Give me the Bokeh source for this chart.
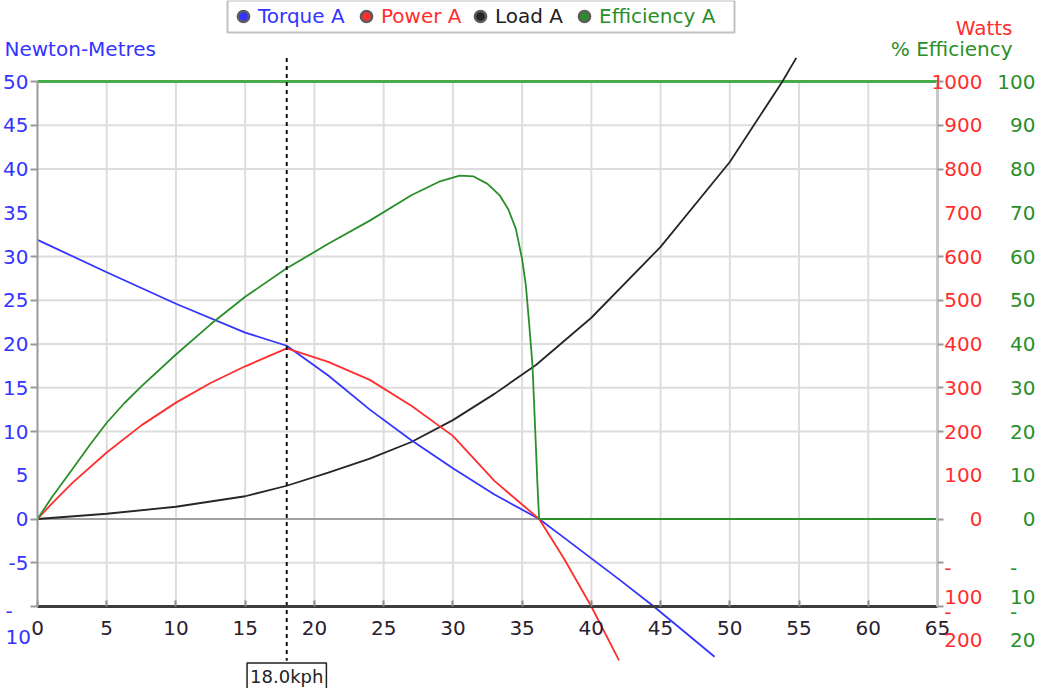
from bokeh.plotting import figure
from bokeh.models import (Range1d, LinearAxis, FixedTicker, Label, LabelSet,
                          ColumnDataSource, Legend, LegendItem, BoxAnnotation)
from bokeh.embed import file_html
from bokeh.resources import INLINE
from bokeh.core.properties import value

# ---------------- data ----------------
speed_torque = [0, 5, 10, 15, 18, 21, 24, 27, 30, 33, 36.23, 38, 40, 42, 44.4, 46.5, 48.9]
torque_nm = [31.9, 28.2, 24.6, 21.3, 19.8, 16.4, 12.5, 9.0, 5.8, 2.8, 0.0, -2.1, -4.5, -6.9, -9.85, -12.6, -15.75]

speed_power = [0, 1, 2.5, 5, 7.5, 10, 12.5, 15, 18, 21, 24, 27, 30, 33, 36.23, 38, 40, 42]
power_w = [0, 34, 82, 152, 214, 266, 311, 349, 390, 359, 318, 259, 190, 87, 0, -89, -200, -323]

speed_load = [0, 5, 10, 15, 18, 21, 24, 27, 30, 33, 36, 40, 45, 50, 53.8, 54.8]
load_nm = [0, 0.6, 1.4, 2.6, 3.8, 5.3, 6.9, 8.8, 11.3, 14.3, 17.6, 23.0, 31.1, 40.8, 50.0, 52.7]

speed_eff = [0, 1, 2.5, 3.75, 5, 6.25, 7.5, 10, 12.5, 15, 18, 21, 24, 27, 29, 30.5, 31.5, 32.5, 33.4,
             34, 34.55, 35, 35.27, 35.5, 35.75, 35.95, 36.11, 36.23, 65]
efficiency_pct = [0, 4.8, 11.3, 16.8, 22, 26.4, 30.3, 37.6, 44.5, 50.8, 57.3, 62.9, 68.2, 74.0, 77.1, 78.5,
                  78.3, 76.6, 73.9, 70.8, 66.3, 59.4, 53.4, 45.0, 35.1, 20.0, 7.7, 0, 0]
efficiency_top = 100

marker_speed = 18.0
marker_text = "18.0kph"

x_ticks = [0, 5, 10, 15, 20, 25, 30, 35, 40, 45, 50, 55, 60, 65]
nm_ticks = [-10, -5, 0, 5, 10, 15, 20, 25, 30, 35, 40, 45, 50]
nm_grid = [-10, -5, 0, 10, 15, 20, 25, 30, 40, 45, 50]
watt_ticks = [1000, 900, 800, 700, 600, 500, 400, 300, 200, 100, 0]
watt_neg = [-100, -200]
eff_ticks = [100, 90, 80, 70, 60, 50, 40, 30, 20, 10, 0]
eff_neg = [-10, -20]

series_names = ["Torque A", "Power A", "Load A", "Efficiency A"]

BLUE = "#3434ff"
RED = "#ff2e2e"
BLACK = "#262626"
GREEN = "#2a8f2a"
TOPGREEN = "#48ad48"
FONT = "DejaVu Sans"
FS = "20px"

# ---------------- layout constants (pixels) ----------------
W, H = 1039, 688
PX_PER_KPH = 900 / 65.0
PX_PER_NM = 8.75
X0_PX = 37.0        # canvas x of 0 kph
Y0_PX = 518.5       # canvas y of 0 Nm
W_PER_NM = 20
PCT_PER_NM = 2
LINE_TOP_NM, LINE_BOTTOM_NM = 52.7, -16.2

x_lo = -X0_PX / PX_PER_KPH
x_hi = (W - X0_PX) / PX_PER_KPH
y_hi = Y0_PX / PX_PER_NM
y_lo = (Y0_PX - H) / PX_PER_NM

p = figure(frame_width=W, frame_height=H,
           x_range=Range1d(x_lo, x_hi), y_range=Range1d(y_lo, y_hi),
           x_axis_type=None, y_axis_type=None,
           output_backend="svg", toolbar_location=None,
           min_border=0)
p.extra_y_ranges = {
    "watts": Range1d(y_lo * W_PER_NM, y_hi * W_PER_NM),
    "eff": Range1d(y_lo * PCT_PER_NM, y_hi * PCT_PER_NM),
}
p.outline_line_color = None
p.background_fill_color = "white"
p.border_fill_color = "white"

# ---------------- grid ----------------
xg = x_ticks[1:-1]
p.segment(x0=xg, y0=[nm_ticks[0]] * len(xg), x1=xg, y1=[nm_ticks[-1]] * len(xg),
          line_color="#dddddd", line_width=2)
yg = [g for g in nm_grid if g not in (nm_ticks[0], 0, nm_ticks[-1])]
p.segment(x0=[x_ticks[0]] * len(yg), y0=yg, x1=[x_ticks[-1]] * len(yg), y1=yg,
          line_color="#dddddd", line_width=2)
p.segment(x0=[x_ticks[0]], y0=[0], x1=[x_ticks[-1]], y1=[0], line_color="#a0a0a0", line_width=2)
p.segment(x0=[x_ticks[0]], y0=[efficiency_top], x1=[x_ticks[-1]], y1=[efficiency_top],
          line_color=TOPGREEN, line_width=3, y_range_name="eff")

# ---------------- curves ----------------
p.line(speed_load, load_nm, line_color=BLACK, line_width=1.8)
p.line(speed_torque, torque_nm, line_color=BLUE, line_width=1.8)
p.line(speed_power, power_w, line_color=RED, line_width=1.8, y_range_name="watts")
p.line(speed_eff, efficiency_pct, line_color=GREEN, line_width=1.8, y_range_name="eff")

p.segment(x0=[marker_speed], y0=[LINE_TOP_NM], x1=[marker_speed], y1=[LINE_BOTTOM_NM],
          line_color="#111111", line_width=2, line_dash="4 4")

# ---------------- axes ----------------
xaxis = LinearAxis(ticker=FixedTicker(ticks=x_ticks), fixed_location=nm_ticks[0],
                   bounds=(x_ticks[0], x_ticks[-1]))
xaxis.axis_line_color = "#3c3c3c"
xaxis.axis_line_width = 3
xaxis.major_tick_in = 6
xaxis.major_tick_out = 0
xaxis.major_tick_line_color = "#8a8a8a"
xaxis.major_tick_line_width = 2
xaxis.minor_tick_line_color = None
xaxis.major_label_standoff = 14
xaxis.major_label_text_font = FONT
xaxis.major_label_text_font_size = FS
xaxis.major_label_text_color = "#2a2030"
p.add_layout(xaxis, "below")

yaxis = LinearAxis(ticker=FixedTicker(ticks=nm_ticks, minor_ticks=nm_grid),
                   fixed_location=x_ticks[0], bounds=(nm_ticks[0], nm_ticks[-1]))
yaxis.axis_line_color = "#9a9a9a"
yaxis.axis_line_width = 2
yaxis.major_tick_line_color = None
yaxis.major_tick_out = 7
yaxis.major_tick_in = 0
yaxis.minor_tick_line_color = "#9a9a9a"
yaxis.minor_tick_line_width = 2
yaxis.minor_tick_out = 7
yaxis.minor_tick_in = 0
yaxis.major_label_standoff = 2
yaxis.major_label_text_font = FONT
yaxis.major_label_text_font_size = FS
yaxis.major_label_text_color = BLUE
yaxis.major_label_overrides = {nm_ticks[0]: "", -5: "-5"}
p.add_layout(yaxis, "left")

watt_grid = [g * W_PER_NM for g in nm_grid]
raxis = LinearAxis(y_range_name="watts", ticker=FixedTicker(ticks=[], minor_ticks=watt_grid),
                   fixed_location=x_ticks[-1],
                   bounds=(nm_ticks[0] * W_PER_NM, nm_ticks[-1] * W_PER_NM))
raxis.axis_line_color = "#c8c8c8"
raxis.axis_line_width = 3
raxis.major_tick_line_color = None
raxis.minor_tick_line_color = "#9a9a9a"
raxis.minor_tick_line_width = 2
raxis.minor_tick_out = 6
raxis.minor_tick_in = 0
p.add_layout(raxis, "right")

# right-hand tick labels (right aligned)
def right_labels(vals, neg, rng, color, xpos):
    src = ColumnDataSource(dict(y=vals, text=[str(v) for v in vals]))
    p.add_layout(LabelSet(x=xpos, x_units="screen", y="y", text="text", source=src,
                          y_range_name=rng, text_align="right", text_baseline="middle",
                          text_color=color, text_font=value(FONT), text_font_size=FS))
    srcn = ColumnDataSource(dict(y=neg, text=["-\n" + str(-v) for v in neg]))
    p.add_layout(LabelSet(x=xpos, x_units="screen", y="y", text="text", source=srcn,
                          y_range_name=rng, text_align="right", text_baseline="top",
                          y_offset=7, text_line_height=1.2,
                          text_color=color, text_font=value(FONT), text_font_size=FS))

right_labels(watt_ticks, watt_neg, "watts", RED, 982)
right_labels(eff_ticks, eff_neg, "eff", GREEN, 1035)

p.add_layout(Label(x=5, x_units="screen", y=nm_ticks[0], text="-\n" + str(-nm_ticks[0]),
                   text_align="left", text_baseline="top", y_offset=8, text_line_height=1.1,
                   text_color=BLUE, text_font=FONT, text_font_size=FS))

# axis titles
p.add_layout(Label(x=4, x_units="screen", y=H - 48, y_units="screen", text="Newton-Metres",
                   text_align="left", text_baseline="middle",
                   text_color=BLUE, text_font=FONT, text_font_size=FS))
p.add_layout(Label(x=1012, x_units="screen", y=H - 27, y_units="screen", text="Watts",
                   text_align="right", text_baseline="middle",
                   text_color=RED, text_font=FONT, text_font_size=FS))
p.add_layout(Label(x=1012, x_units="screen", y=H - 48, y_units="screen", text="% Efficiency",
                   text_align="right", text_baseline="middle",
                   text_color=GREEN, text_font=FONT, text_font_size=FS))

# speed marker label
p.add_layout(Label(x=marker_speed, y=H - 676, y_units="screen", text=marker_text,
                   text_align="center", text_baseline="middle",
                   text_color="#222222", text_font=FONT, text_font_size="18px",
                   border_line_color="#222222", border_line_width=1.5,
                   background_fill_color="white", padding=3))

# ---------------- legend ----------------
p.add_layout(BoxAnnotation(left=227, right=734, top=H, bottom=H - 32,
                           left_units="screen", right_units="screen",
                           top_units="screen", bottom_units="screen",
                           fill_color="white", fill_alpha=1.0,
                           line_color="#333333", line_width=2))

leg_colors = [BLUE, RED, BLACK, GREEN]
leg_text_colors = [BLUE, RED, "#222222", GREEN]
leg_x = [229, 352, 466, 570]
nan = float("nan")
for name, col, tcol, lx in zip(series_names, leg_colors, leg_text_colors, leg_x):
    r = p.scatter(x=[nan], y=[nan], marker="circle", size=10, fill_color=col,
                  line_color="#5c5c5c", line_width=2.5)
    leg = Legend(items=[LegendItem(label=name, renderers=[r])], location=(lx, H - 30),
                 orientation="horizontal", padding=0, margin=0, spacing=0,
                 glyph_width=28, glyph_height=28, label_standoff=1, label_height=20,
                 border_line_color=None, background_fill_alpha=0,
                 label_text_font=FONT, label_text_font_size=FS, label_text_color=tcol)
    p.add_layout(leg, "center")

open("out.html", "w").write(file_html(p, INLINE))
